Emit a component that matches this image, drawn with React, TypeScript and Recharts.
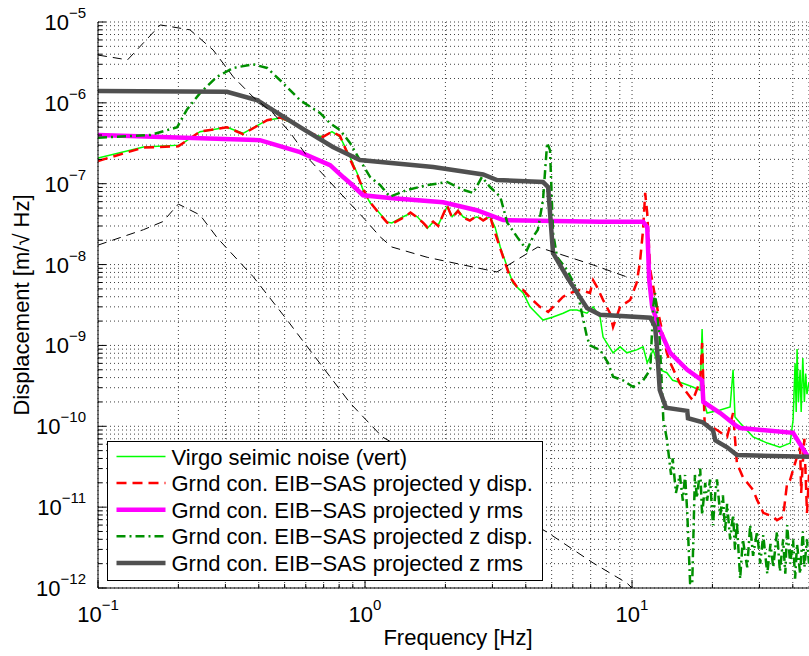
import React from "react";
import { LineChart, Line, XAxis, YAxis, CartesianGrid, Legend } from "recharts";

const FONT = '"Liberation Sans", Arial, Helvetica, sans-serif';

// axis decades and minor steps (log axes)
const xDecades = [-1, 0, 1];
const yDecades = [-12, -11, -10, -9, -8, -7, -6, -5];
const minorSteps = [2, 3, 4, 5, 6, 7, 8, 9];
const xMax = 46;

// Virgo seismic noise (vert)
const virgoFreq = [0.1, 0.148, 0.203, 0.241, 0.304, 0.349, 0.43, 0.481, 0.524, 0.571, 0.638, 0.696, 0.752, 0.806, 0.879, 0.934, 0.983, 1.045, 1.11, 1.21, 1.26, 1.39, 1.48, 1.57, 1.65, 1.71, 1.8, 1.88, 2.03, 2.12, 2.23, 2.33, 2.47, 2.62, 2.77, 2.94, 3.07, 3.21, 3.41, 3.58, 3.91, 4.15, 4.52, 4.64, 5.06, 5.52, 5.86, 6.22, 6.78, 7.15, 7.59, 7.79, 8.49, 9.02, 9.57, 10.4, 11.0, 11.4, 12.0, 12.7, 13.5, 14.2, 15.5, 16.9, 18.0, 18.3, 18.6, 19.1, 21.4, 23.3, 23.9, 24.3, 25.4, 28.4, 32.1, 35.8, 39.1, 40.1, 40.8, 41.2, 41.5, 42.0, 42.6, 43.0, 43.6, 44.2, 44.7, 45.2, 46];
const virgoVal = [2.08e-7, 2.85e-7, 3.0e-7, 4.4e-7, 5.0e-7, 4.2e-7, 6.1e-7, 6.5e-7, 5.8e-7, 5.0e-7, 4.0e-7, 3.8e-7, 4.4e-7, 3.8e-7, 2.14e-7, 1.36e-7, 8.4e-8, 5.8e-8, 4.7e-8, 3.36e-8, 3.27e-8, 3.9e-8, 4.3e-8, 3.9e-8, 3.27e-8, 2.8e-8, 3.36e-8, 3.1e-8, 5.2e-8, 3.9e-8, 4.7e-8, 3.9e-8, 3.56e-8, 3.9e-8, 3.56e-8, 3.9e-8, 2.9e-8, 1.65e-8, 9.3e-9, 5.9e-9, 4.45e-9, 3.0e-9, 2.25e-9, 2.06e-9, 2.25e-9, 2.5e-9, 2.74e-9, 2.74e-9, 2.5e-9, 3.0e-9, 2.25e-9, 1.27e-9, 8.1e-10, 9.6e-10, 8.1e-10, 8.8e-10, 9.6e-10, 6.1e-10, 8.8e-10, 5.0e-10, 4.6e-10, 3.7e-10, 3.4e-10, 3.06e-10, 2.8e-10, 1.6e-9, 2.0e-10, 1.46e-10, 1.59e-10, 1.73e-10, 5.0e-10, 1.3e-10, 1.1e-10, 7.4e-11, 6.2e-11, 5.5e-11, 6.2e-11, 1.2e-10, 6e-10, 1.5e-10, 9e-10, 2e-10, 5e-10, 1.5e-10, 7e-10, 2e-10, 4.5e-10, 2.5e-10, 3.5e-10];

// projected y displacement
const yDispFreq = [0.1, 0.148, 0.2, 0.241, 0.304, 0.349, 0.43, 0.481, 0.524, 0.571, 0.638, 0.696, 0.752, 0.806, 0.879, 0.934, 0.983, 1.045, 1.11, 1.21, 1.26, 1.39, 1.48, 1.57, 1.65, 1.71, 1.8, 1.88, 2.03, 2.12, 2.23, 2.33, 2.47, 2.62, 2.77, 2.94, 3.02, 3.29, 3.49, 3.71, 3.91, 4.15, 4.52, 4.85, 5.24, 5.52, 5.86, 6.38, 6.96, 7.15, 7.39, 7.79, 8.27, 8.49, 9.02, 9.84, 10.4, 10.7, 11.0, 11.2, 11.4, 11.7, 12.4, 13.5, 13.9, 15.1, 16.5, 16.9, 18.0, 18.3, 18.7, 20.8, 22.7, 23.9, 24.7, 26.0, 28.4, 29.4, 31.0, 33.8, 34.9, 36.8, 38.1, 39.1, 40.1, 41.5, 42.6, 43.0, 43.6, 44.2, 45.2, 46];
const yDispVal = [1.91e-7, 2.8e-7, 2.9e-7, 4.4e-7, 5.0e-7, 4.1e-7, 6.1e-7, 6.6e-7, 5.9e-7, 5.0e-7, 4.1e-7, 3.8e-7, 4.4e-7, 3.9e-7, 2.0e-7, 1.3e-7, 8.6e-8, 5.9e-8, 4.6e-8, 3.3e-8, 3.2e-8, 3.8e-8, 4.4e-8, 3.8e-8, 3.3e-8, 2.9e-8, 3.4e-8, 3.0e-8, 5.4e-8, 3.8e-8, 4.6e-8, 3.8e-8, 3.5e-8, 4.0e-8, 3.5e-8, 4.0e-8, 2.9e-8, 1.24e-8, 7.0e-9, 5.3e-9, 4.85e-9, 3.9e-9, 3.0e-9, 2.6e-9, 3.35e-9, 4.0e-9, 4.45e-9, 4.85e-9, 4.45e-9, 6.4e-9, 5.3e-9, 3.65e-9, 2.5e-9, 1.69e-9, 3.0e-9, 3.65e-9, 5.9e-9, 1.05e-8, 2.7e-8, 7.7e-8, 4.3e-8, 8.6e-9, 3.0e-9, 8.1e-10, 6.1e-10, 3.4e-10, 2.3e-10, 2.1e-10, 3.7e-10, 1.07e-9, 1.1e-10, 9e-11, 7.4e-11, 1.46e-10, 3.5e-11, 2.36e-11, 1.63e-11, 1.23e-11, 8.5e-12, 7.6e-12, 6.9e-12, 7.6e-12, 2.0e-11, 2.17e-11, 2.9e-11, 4.2e-11, 5.5e-11, 1.5e-11, 3.5e-11, 7e-11, 8.5e-12, 2.5e-11];

// projected y rms
const yRmsFreq = [0.1, 0.404, 0.571, 0.74, 0.83, 0.879, 0.983, 1.27, 1.96, 2.62, 3.29, 7.59, 11.0, 11.4, 11.6, 11.9, 12.7, 13.9, 16.1, 18.3, 18.5, 21.4, 24.7, 25.4, 40.1, 45.2, 46];
const yRmsVal = [4.0e-7, 3.46e-7, 2.46e-7, 1.7e-7, 1.2e-7, 1.02e-7, 7.2e-8, 6.6e-8, 5.9e-8, 4.7e-8, 3.55e-8, 3.38e-8, 3.38e-8, 2.9e-8, 6.4e-9, 3.0e-9, 1.56e-9, 8.1e-10, 5.0e-10, 3.7e-10, 2.0e-10, 1.46e-10, 1.0e-10, 9.5e-11, 8.3e-11, 4.4e-11, 4.2e-11];

// projected z displacement
const zDispFreq = [0.1, 0.157, 0.198, 0.215, 0.241, 0.279, 0.321, 0.381, 0.43, 0.493, 0.571, 0.678, 0.74, 0.806, 0.879, 0.957, 1.045, 1.14, 1.24, 1.44, 1.71, 2.03, 2.33, 2.54, 2.74, 2.94, 3.21, 3.41, 3.71, 4.04, 4.26, 4.44, 4.64, 4.81, 4.93, 5.06, 5.24, 5.71, 6.22, 6.78, 6.96, 7.59, 8.13, 8.49, 9.25, 10.1, 11.0, 11.7, 12.0, 12.2, 12.7, 13.1, 13.5, 14.0, 14.2, 14.6, 15.1, 15.5, 15.8, 16.1, 16.5, 16.8, 17.2, 17.5, 18.0, 18.3, 18.8, 19.1, 19.6, 20.1, 20.5, 20.8, 21.4, 21.9, 22.3, 22.7, 23.3, 23.9, 24.3, 24.7, 25.4, 26.0, 27.0, 27.7, 28.4, 29.4, 30.2, 31.0, 32.1, 33.0, 33.8, 34.9, 35.8, 36.8, 37.5, 38.1, 39.1, 40.1, 40.8, 41.5, 42.6, 43.6, 44.2, 45.2, 46];
const zDispVal = [3.7e-7, 4.0e-7, 5.0e-7, 8.2e-7, 1.32e-6, 2.1e-6, 2.7e-6, 3.0e-6, 2.7e-6, 1.76e-6, 1.08e-6, 7.5e-7, 5.6e-7, 4.6e-7, 3.2e-7, 1.96e-7, 1.21e-7, 9.6e-8, 6.9e-8, 8.4e-8, 9.6e-8, 1.05e-7, 8.4e-8, 7.7e-8, 1.21e-7, 9.1e-8, 6.9e-8, 3.3e-8, 2.2e-8, 1.51e-8, 2.2e-8, 2.7e-8, 6.3e-8, 3.2e-7, 2.6e-7, 2.46e-8, 1.24e-8, 8.6e-9, 4.85e-9, 1.27e-9, 1.0e-9, 8.8e-10, 6.1e-10, 4.1e-10, 3.7e-10, 3.06e-10, 3.7e-10, 5.0e-10, 3.0e-9, 4.45e-9, 1.17e-9, 1.2e-10, 7e-11, 2.5e-11, 4e-11, 1.5e-11, 2.5e-11, 1.2e-11, 2.5e-11, 8.5e-12, 1.15e-12, 1.1e-12, 2.5e-11, 1.3e-11, 3e-11, 8e-12, 2e-11, 1.2e-11, 2.2e-11, 6e-12, 1.5e-11, 2.2e-11, 8e-12, 1.4e-11, 5e-12, 1.1e-11, 4e-12, 8e-12, 3e-12, 6.5e-12, 1.3e-12, 4e-12, 1.8e-12, 6e-12, 2.5e-12, 5e-12, 2e-12, 4.5e-12, 1.5e-12, 3.5e-12, 1.8e-12, 5e-12, 1.6e-12, 4e-12, 1.5e-12, 6e-12, 2e-12, 4e-12, 1.3e-12, 3.5e-12, 1.5e-12, 5e-12, 1.8e-12, 4e-12, 2e-12];

// projected z rms
const zRmsFreq = [0.1, 0.304, 0.394, 0.571, 0.758, 0.957, 1.8, 2.77, 3.12, 4.64, 4.85, 5.06, 5.71, 6.22, 6.78, 7.59, 11.7, 12.2, 12.4, 12.7, 13.4, 16.1, 16.2, 18.4, 20.1, 20.5, 22.7, 24.7, 46];
const zRmsVal = [1.4e-6, 1.37e-6, 1.08e-6, 5.0e-7, 2.85e-7, 1.96e-7, 1.61e-7, 1.3e-7, 1.11e-7, 1.05e-7, 9.1e-8, 1.39e-8, 7.0e-9, 4.5e-9, 2.9e-9, 2.4e-9, 2.2e-9, 1.7e-9, 9.6e-10, 2.8e-10, 1.7e-10, 1.55e-10, 1.26e-10, 1.12e-10, 8.9e-11, 6.7e-11, 5.5e-11, 4.4e-11, 4.2e-11];

// thin black dashed reference curves
const refAFreq = [0.1, 0.129, 0.171, 0.221, 0.27, 0.321, 0.381, 0.452, 0.524, 0.622, 0.806, 1.0, 1.14, 1.26, 1.71, 2.33, 3.12, 4.44, 7.15, 9.84];
const refAVal = [3.9e-6, 3.4e-6, 9.2e-6, 8.0e-6, 4.5e-6, 2.1e-6, 1.18e-6, 7.5e-7, 4.3e-7, 1.95e-7, 7.7e-8, 3.6e-8, 2.2e-8, 1.65e-8, 1.23e-8, 9.9e-9, 8.1e-9, 1.65e-8, 9.9e-9, 6.8e-9];
const refBFreq = [0.1, 0.148, 0.175, 0.2, 0.241, 0.281, 0.381, 0.511, 0.556, 0.879, 1.16, 4.81, 7.15, 9.57, 10.0];
const refBVal = [1.74e-8, 2.7e-8, 3.4e-8, 5.6e-8, 4.1e-8, 2.1e-8, 7.1e-9, 2.06e-9, 1.42e-9, 1.94e-10, 7.4e-11, 4.9e-12, 2.04e-12, 1.15e-12, 1.0e-12];

const toRows = (fs: number[], vs: number[]) => fs.map((f, i) => ({ f, v: vs[i] }));

const series = [
  { name: "Virgo seimic noise (vert)", data: toRows(virgoFreq, virgoVal), color: "#00ff00", width: 1.5, dash: undefined as string | undefined },
  { name: "Grnd con. EIB\u2212SAS projected y disp.", data: toRows(yDispFreq, yDispVal), color: "#ff0000", width: 2.5, dash: "10 6" },
  { name: "Grnd con. EIB\u2212SAS projected y rms", data: toRows(yRmsFreq, yRmsVal), color: "#ff00ff", width: 4.5, dash: undefined },
  { name: "Grnd con. EIB\u2212SAS projected z disp.", data: toRows(zDispFreq, zDispVal), color: "#009000", width: 2.5, dash: "9 4 2 4" },
  { name: "Grnd con. EIB\u2212SAS projected z rms", data: toRows(zRmsFreq, zRmsVal), color: "#505050", width: 4.5, dash: undefined },
];
const refs = [toRows(refAFreq, refAVal), toRows(refBFreq, refBVal)];

const buildTicks = (decades: number[], max: number) => {
  const out: number[] = [];
  decades.forEach((d) => {
    const base = Math.pow(10, d);
    out.push(base);
    minorSteps.forEach((m) => {
      if (m * base <= max * 1.0001) out.push(m * base);
    });
  });
  return out;
};
const xTicks = buildTicks(xDecades, xMax);
const yTicks = buildTicks(yDecades, 1e-5);

const isMajor = (v: number) => Math.abs(Math.log10(v) - Math.round(Math.log10(v))) < 1e-6;
const expText = (v: number) => {
  const e = Math.round(Math.log10(v));
  return e < 0 ? "\u2212" + -e : String(e);
};

const XTickBottom = (props: any) => {
  const { x, y, payload } = props;
  const major = isMajor(payload.value);
  return (
    <g>
      <line x1={x} y1={y} x2={x} y2={y - (major ? 8 : 4)} stroke="#000" />
      {major && (
        <text x={x} y={y + 34} textAnchor="middle" fontFamily={FONT} fontSize={22} fill="#000">
          10<tspan dy={-12} fontSize={15}>{expText(payload.value)}</tspan>
        </text>
      )}
    </g>
  );
};

const XTickTop = (props: any) => {
  const { x, y, payload } = props;
  const major = isMajor(payload.value);
  return <line x1={x} y1={y} x2={x} y2={y + (major ? 8 : 4)} stroke="#000" />;
};

const YTickLeft = (props: any) => {
  const { x, y, payload } = props;
  const major = isMajor(payload.value);
  return (
    <g>
      <line x1={x} y1={y} x2={x + (major ? 8 : 4)} y2={y} stroke="#000" />
      {major && (
        <text x={x - 12} y={y + 8} textAnchor="end" fontFamily={FONT} fontSize={22} fill="#000">
          10<tspan dy={-12} fontSize={15}>{expText(payload.value)}</tspan>
        </text>
      )}
    </g>
  );
};

const XTitle = () => (
  <text x={458} y={645} textAnchor="middle" fontFamily={FONT} fontSize={22} fill="#000">
    Frequency [Hz]
  </text>
);

const YTitle = () => (
  <text x={29} y={305} transform="rotate(-90 29 305)" textAnchor="middle" fontFamily={FONT} fontSize={22} fill="#000">
    Displacement [m/√ Hz]
  </text>
);

const LegendBox = () => (
  <div style={{ width: 436, height: 140, boxSizing: "border-box", border: "1.5px solid #000", background: "#fff" }}>
    <svg width={433} height={137} style={{ display: "block" }}>
      {series.map((s, i) => {
        const cy = 14.5 + i * 26.6;
        return (
          <g key={s.name}>
            <line x1={8.5} x2={57.5} y1={cy} y2={cy} stroke={s.color} strokeWidth={s.width} strokeDasharray={s.dash} />
            <text x={63.5} y={cy + 8} fontFamily={FONT} fontSize={22} fill="#000">
              {s.name}
            </text>
          </g>
        );
      })}
    </svg>
  </div>
);

export default function App() {
  return (
    <div style={{ position: "absolute", left: 0, top: 0, width: 809, height: 656, background: "#fff", overflow: "hidden" }}>
      <LineChart width={809} height={656} margin={{ top: 22, right: 0, bottom: 0, left: 0 }}>
        <CartesianGrid xAxisId="b" stroke="#000" strokeOpacity={0.75} strokeDasharray="1 3" />
        <XAxis
          xAxisId="b"
          type="number"
          dataKey="f"
          scale="log"
          domain={[0.1, xMax]}
          allowDataOverflow
          ticks={xTicks}
          interval={0}
          tick={<XTickBottom />}
          tickLine={false}
          tickSize={0}
          tickMargin={0}
          height={68}
          axisLine={{ stroke: "#000" }}
          label={<XTitle />}
        />
        <XAxis
          xAxisId="t"
          orientation="top"
          type="number"
          dataKey="f"
          scale="log"
          domain={[0.1, xMax]}
          allowDataOverflow
          ticks={xTicks}
          interval={0}
          tick={<XTickTop />}
          tickLine={false}
          tickSize={0}
          tickMargin={0}
          height={0}
          axisLine={{ stroke: "#000", strokeWidth: 1.5 }}
        />
        <YAxis
          type="number"
          scale="log"
          domain={[1e-12, 1e-5]}
          allowDataOverflow
          ticks={yTicks}
          interval={0}
          tick={<YTickLeft />}
          tickLine={false}
          tickSize={0}
          tickMargin={0}
          width={98}
          axisLine={{ stroke: "#000" }}
          label={<YTitle />}
        />
        <Legend
          layout="vertical"
          align="center"
          verticalAlign="middle"
          content={<LegendBox />}
          wrapperStyle={{ left: 107, top: 441, width: 436, height: 140 }}
        />
        {series.map((s) => (
          <Line
            key={s.name}
            xAxisId="b"
            data={s.data}
            dataKey="v"
            name={s.name}
            type="linear"
            stroke={s.color}
            strokeWidth={s.width}
            strokeDasharray={s.dash}
            dot={false}
            activeDot={false}
            isAnimationActive={false}
          />
        ))}
        {refs.map((r, i) => (
          <Line
            key={"ref" + i}
            xAxisId="b"
            data={r}
            dataKey="v"
            legendType="none"
            type="linear"
            stroke="#000"
            strokeWidth={1}
            strokeDasharray="9 6"
            dot={false}
            activeDot={false}
            isAnimationActive={false}
          />
        ))}
      </LineChart>
    </div>
  );
}
